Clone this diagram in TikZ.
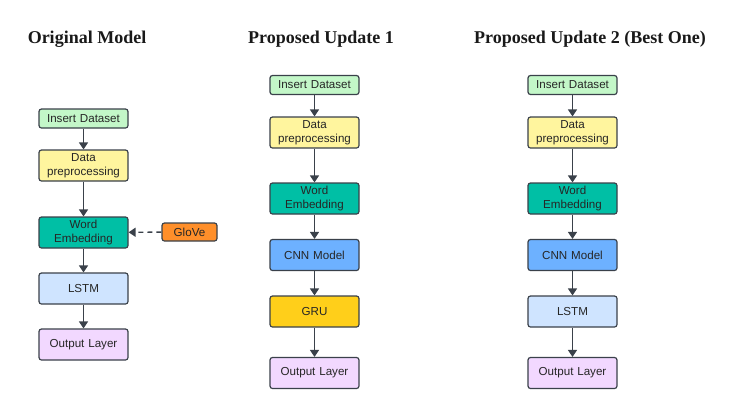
\documentclass[tikz,border=0pt]{standalone}
\usepackage{fontspec}
\setmainfont{Liberation Sans}
\newfontfamily\titlefont{Liberation Serif}
\usetikzlibrary{arrows.meta}

\definecolor{edgegray}{HTML}{3A414A}
\definecolor{insertgreen}{HTML}{C3F7C8}
\definecolor{prepyellow}{HTML}{FFF59E}
\definecolor{embedteal}{HTML}{00BFA5}
\definecolor{gloveorange}{HTML}{FF8F2A}
\definecolor{lstmblue}{HTML}{CFE4FF}
\definecolor{outpurple}{HTML}{F2D8FF}
\definecolor{cnnblue}{HTML}{6DB1FF}
\definecolor{grugold}{HTML}{FFCF1A}

\begin{document}
\begin{tikzpicture}[x=1pt,y=-1pt,line width=1.4pt,>={Triangle[length=7pt,width=9pt]},
  block/.style ={rectangle, draw=edgegray, line width=1.2pt, text=black!85, font=\fontsize{11.6}{14}\selectfont, text width=84pt, align=center, rounded corners=2.5pt, minimum width=89pt, minimum height=31pt, inner sep=0pt},
  thin block/.style ={block, minimum height=19pt},
  heading/.style ={font=\titlefont\bfseries\fontsize{18}{20}\selectfont, text=black!90}]
\useasboundingbox (0,0) rectangle (734,416);
% headings
\draw (87,39) node[heading] (T1) {Original Model};
\draw (321,39) node[heading] (T2) {Proposed Update 1};
\draw (590,39) node[heading] (T3) {Proposed Update 2 (Best One)};
% original model
\draw (83.5,118.5) node[thin block, fill=insertgreen] (A1) {Insert Dataset};
\draw (83.5,165.5) node[block, fill=prepyellow] (B1) {Data\\preprocessing};
\draw (83.5,232.5) node[block, fill=embedteal] (C1) {Word\\Embedding};
\draw (83.5,288.5) node[block, fill=lstmblue] (D1) {LSTM};
\draw (83.5,344.5) node[block, fill=outpurple] (E1) {Output Layer};
\draw (189.5,232) node[thin block, fill=gloveorange, text width=50pt, minimum width=55pt, minimum height=18pt] (G1) {GloVe};
\draw[edgegray,->] (A1)--(B1);
\draw[edgegray,->] (B1)--(C1);
\draw[edgegray,->] (C1)--(D1);
\draw[edgegray,->] (D1)--(E1);
\draw[edgegray,dash pattern=on 5pt off 4pt,->] (G1)--(C1);
% proposed update 1
\draw (314.5,85) node[thin block, fill=insertgreen] (A2) {Insert Dataset};
\draw (314.5,132.5) node[block, fill=prepyellow] (B2) {Data\\preprocessing};
\draw (314.5,198.5) node[block, fill=embedteal] (C2) {Word\\Embedding};
\draw (314.5,255) node[block, fill=cnnblue] (D2) {CNN Model};
\draw (314.5,311.5) node[block, fill=grugold] (E2) {GRU};
\draw (314.5,373) node[block, fill=outpurple] (F2) {Output Layer};
\draw[edgegray,->] (A2)--(B2);
\draw[edgegray,->] (B2)--(C2);
\draw[edgegray,->] (C2)--(D2);
\draw[edgegray,->] (D2)--(E2);
\draw[edgegray,->] (E2)--(F2);
% proposed update 2
\draw (572.5,85) node[thin block, fill=insertgreen] (A3) {Insert Dataset};
\draw (572.5,132.5) node[block, fill=prepyellow] (B3) {Data\\preprocessing};
\draw (572.5,198.5) node[block, fill=embedteal] (C3) {Word\\Embedding};
\draw (572.5,255) node[block, fill=cnnblue] (D3) {CNN Model};
\draw (572.5,311.5) node[block, fill=lstmblue] (E3) {LSTM};
\draw (572.5,373) node[block, fill=outpurple] (F3) {Output Layer};
\draw[edgegray,->] (A3)--(B3);
\draw[edgegray,->] (B3)--(C3);
\draw[edgegray,->] (C3)--(D3);
\draw[edgegray,->] (D3)--(E3);
\draw[edgegray,->] (E3)--(F3);
\end{tikzpicture}
\end{document}
